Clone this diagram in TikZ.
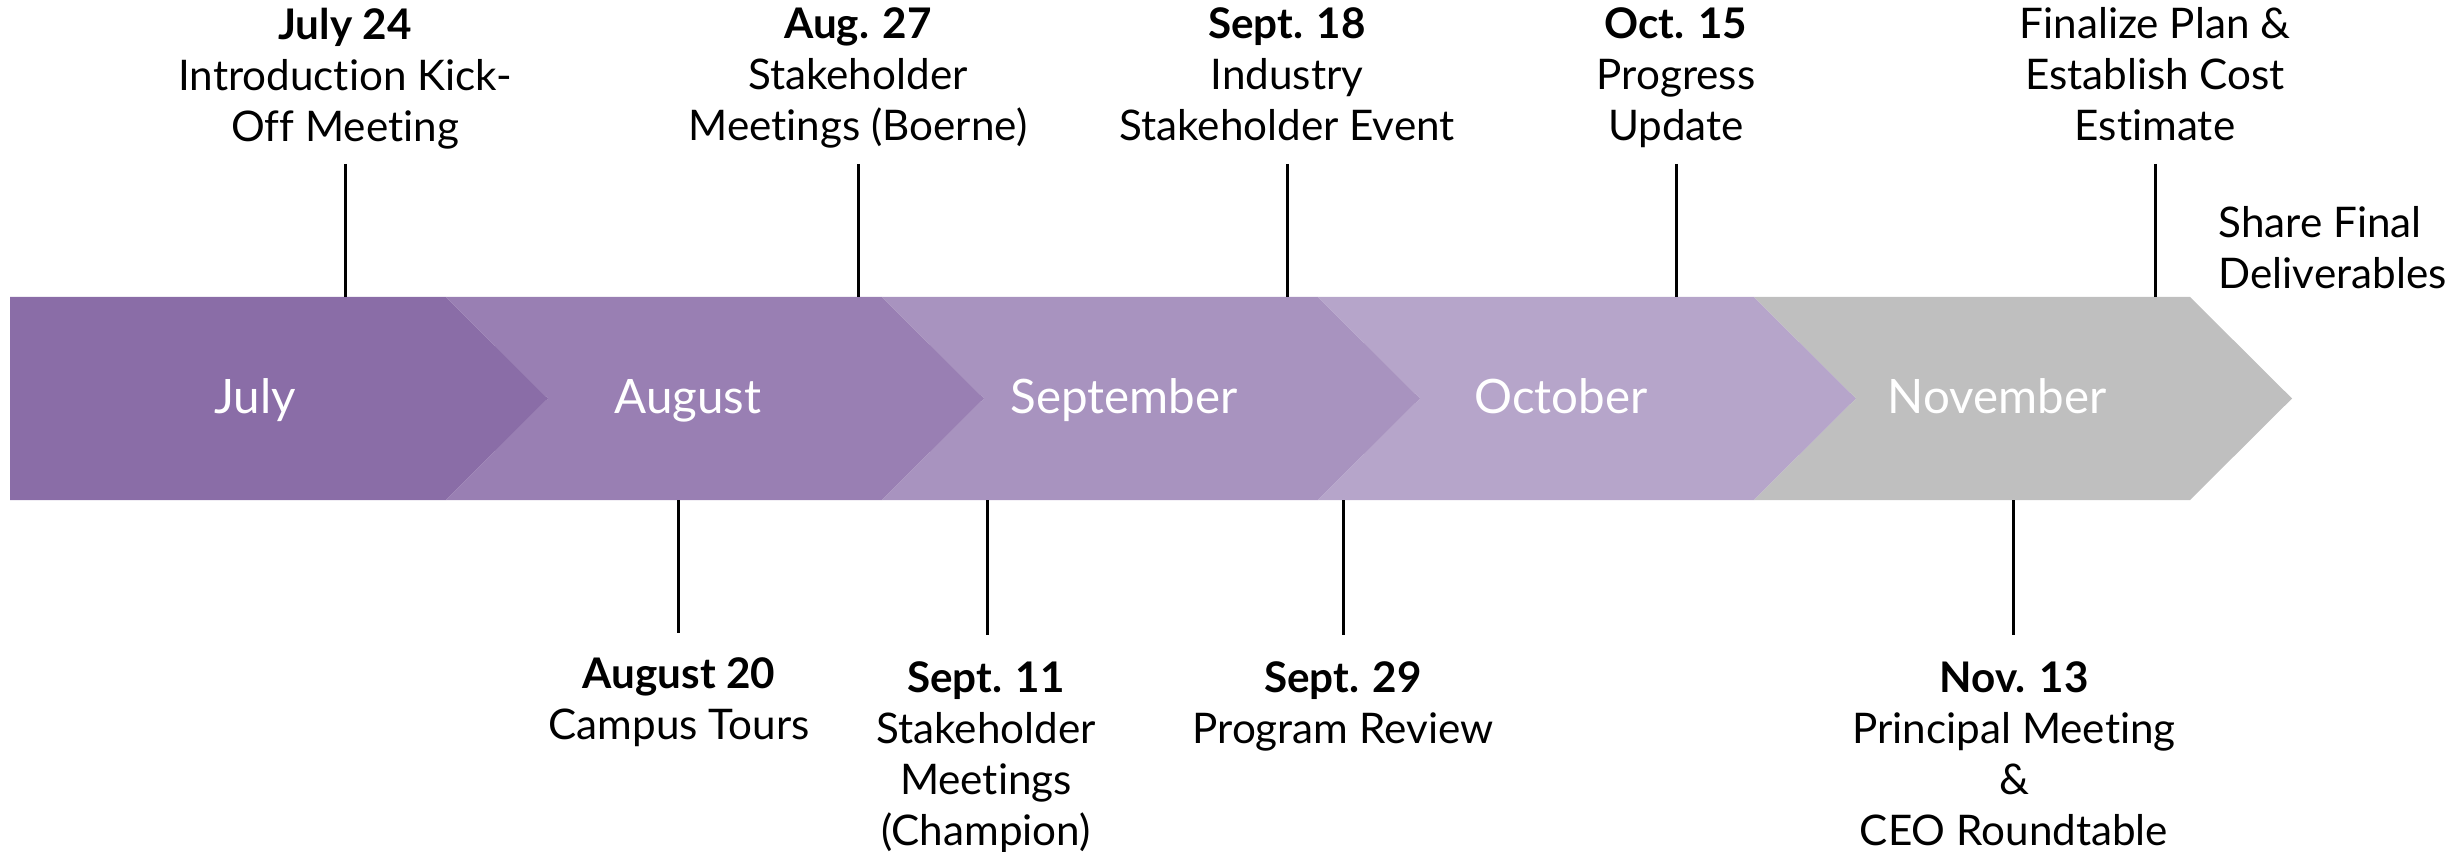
\documentclass[tikz,border=0pt]{standalone}
\usepackage{fontspec}
\setmainfont{Lato}[Ligatures=NoCommon]
\usetikzlibrary{positioning,calc}

\definecolor{julcol}{HTML}{8A6DA7}
\definecolor{augcol}{HTML}{997FB3}
\definecolor{sepcol}{HTML}{A893BF}
\definecolor{octcol}{HTML}{B6A5CA}
\definecolor{novcol}{HTML}{BFBFBF}

\begin{document}
\begin{tikzpicture}[x=0.01cm, y=-0.01cm,
		evt/.style={align=center, inner sep=0pt, font=\fontsize{12}{14.5}\selectfont},
		mon/.style={text=white, inner sep=0pt, anchor=base, font=\fontsize{13.5}{16}\selectfont},
		tick/.style={line width=0.85pt}]
		\useasboundingbox (0,0) rectangle (2461,852);
		\coordinate (btop) at (0,297);
		\coordinate (bbot) at (0,500);
		% month chevrons
		\fill[julcol] (10,297) -- (446,297) -- (548,398.5) -- (446,500) -- (10,500) -- cycle;
		\fill[augcol] (446,297) -- (882,297) -- (984,398.5) -- (882,500) -- (446,500) -- (548,398.5) -- cycle;
		\fill[sepcol] (882,297) -- (1318,297) -- (1420,398.5) -- (1318,500) -- (882,500) -- (984,398.5) -- cycle;
		\fill[octcol] (1318,297) -- (1754,297) -- (1856,398.5) -- (1754,500) -- (1318,500) -- (1420,398.5) -- cycle;
		\fill[novcol] (1754,297) -- (2190,297) -- (2292,398.5) -- (2190,500) -- (1754,500) -- (1856,398.5) -- cycle;
		\node[mon] (jul) at (255,413) {July};
		\node[mon] (aug) at (688,413) {August};
		\node[mon] (sep) at (1124,413) {September};
		\node[mon] (oct) at (1561,413) {October};
		\node[mon] (nov) at (1997,413) {November};
		% events above
		\node[evt, anchor=north] (jul24) at (345,7) {\textbf{July 24}\\Introduction Kick-\\Off Meeting};
		\node[evt, anchor=north] (aug27) at (858,7) {\textbf{Aug. 27}\\Stakeholder\\Meetings (Boerne)};
		\node[evt, anchor=north] (sep18) at (1287,7) {\textbf{Sept. 18}\\Industry\\Stakeholder Event};
		\node[evt, anchor=north] (oct15) at (1676,7) {\textbf{Oct. 15}\\Progress\\Update};
		\node[evt, anchor=north] (final) at (2155,7) {Finalize Plan \&\\Establish Cost\\Estimate};
		\node[evt, anchor=north west, align=left] (share) at (2218,206) {Share Final\\Deliverables};
		\coordinate (t1) at (345,164);
		\coordinate (t2) at (858,164);
		\coordinate (t3) at (1287,164);
		\coordinate (t4) at (1676,164);
		\coordinate (t5) at (2155,164);
		\draw[tick] (t1) -- (t1 |- btop);
		\draw[tick] (t2) -- (t2 |- btop);
		\draw[tick] (t3) -- (t3 |- btop);
		\draw[tick] (t4) -- (t4 |- btop);
		\draw[tick] (t5) -- (t5 |- btop);
		% events below
		\node[evt, anchor=north] (aug20) at (679,657) {\textbf{August 20}\\Campus Tours};
		\node[evt, anchor=north] (sep11) at (986,661) {\textbf{Sept. 11}\\Stakeholder\\Meetings\\(Champion)};
		\node[evt, anchor=north] (sep29) at (1343,661) {\textbf{Sept. 29}\\Program Review};
		\node[evt, anchor=north] (nov13) at (2014,661) {\textbf{Nov. 13}\\Principal Meeting\\\&\\CEO Roundtable};
		\coordinate (b1) at (678,633);
		\coordinate (b2) at (987,635);
		\coordinate (b3) at (1343,635);
		\coordinate (b4) at (2013,635);
		\draw[tick] (b1 |- bbot) -- (b1);
		\draw[tick] (b2 |- bbot) -- (b2);
		\draw[tick] (b3 |- bbot) -- (b3);
		\draw[tick] (b4 |- bbot) -- (b4);
	\end{tikzpicture}
\end{document}
